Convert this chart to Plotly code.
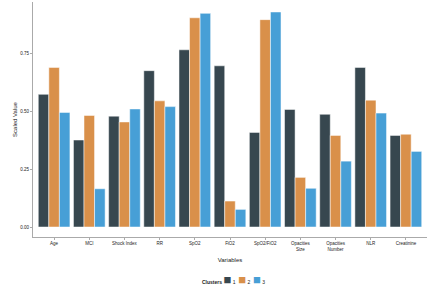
import plotly.graph_objects as go

categories = ["Age", "MCI", "Shock Index", "RR", "SpO2", "FiO2", "SpO2/FiO2",
              "Opacities<br>Size", "Opacities<br>Number", "NLR", "Creatinine"]
cluster1 = [0.572, 0.375, 0.478, 0.674, 0.764, 0.695, 0.408, 0.507, 0.486, 0.688, 0.395]
cluster2 = [0.688, 0.481, 0.453, 0.544, 0.902, 0.112, 0.894, 0.214, 0.395, 0.547, 0.400]
cluster3 = [0.494, 0.165, 0.509, 0.519, 0.921, 0.076, 0.927, 0.167, 0.284, 0.491, 0.326]
cluster_names = ["1", "2", "3"]
colors = ["#37474F", "#D9904A", "#479FD6"]
y_ticks = [0, 0.25, 0.5, 0.75]
y_tick_labels = ["0.00", "0.25", "0.50", "0.75"]

fig = go.Figure()
for name, vals, col in zip(cluster_names, [cluster1, cluster2, cluster3], colors):
    fig.add_trace(go.Bar(x=categories, y=vals, name=name, showlegend=False,
                         marker=dict(color=col, line=dict(color="white", width=0.5))))

legend_text = "<b>Clusters</b>&nbsp;" + "&nbsp;&nbsp;".join(
    f"<span style='color:{c};font-size:13px'>■</span>&nbsp;{n}" for n, c in zip(cluster_names, colors))
fig.add_annotation(text=legend_text, xref="paper", yref="paper", x=0.51, y=-0.18,
                   xanchor="center", yanchor="middle", showarrow=False,
                   font=dict(size=5, color="#222"))

fig.update_layout(
    width=440, height=293,
    margin=dict(l=33, r=13, t=2, b=56),
    barmode="group", bargap=0.1, bargroupgap=0,
    plot_bgcolor="white", paper_bgcolor="white",
    font=dict(family="Liberation Sans, Arial", size=5, color="#222"),
    xaxis=dict(title=dict(text="Variables", font=dict(size=6), standoff=6),
               range=[-0.6, 10.6], showline=True, linecolor="#aaa", linewidth=1,
               ticks="outside", ticklen=2, tickcolor="#aaa", tickfont=dict(size=4.5)),
    yaxis=dict(title=dict(text="Scaled Value", font=dict(size=6), standoff=2),
               range=[-0.043, 0.97], showline=True, linecolor="#aaa", linewidth=1,
               ticks="outside", ticklen=2, tickcolor="#aaa", showgrid=False, zeroline=False,
               tickvals=y_ticks, ticktext=y_tick_labels, tickfont=dict(size=4.5)),
)
fig.write_html("out.html", config={"displayModeBar": False},
               post_script="document.body.style.margin='0';document.body.style.overflow='hidden';")
